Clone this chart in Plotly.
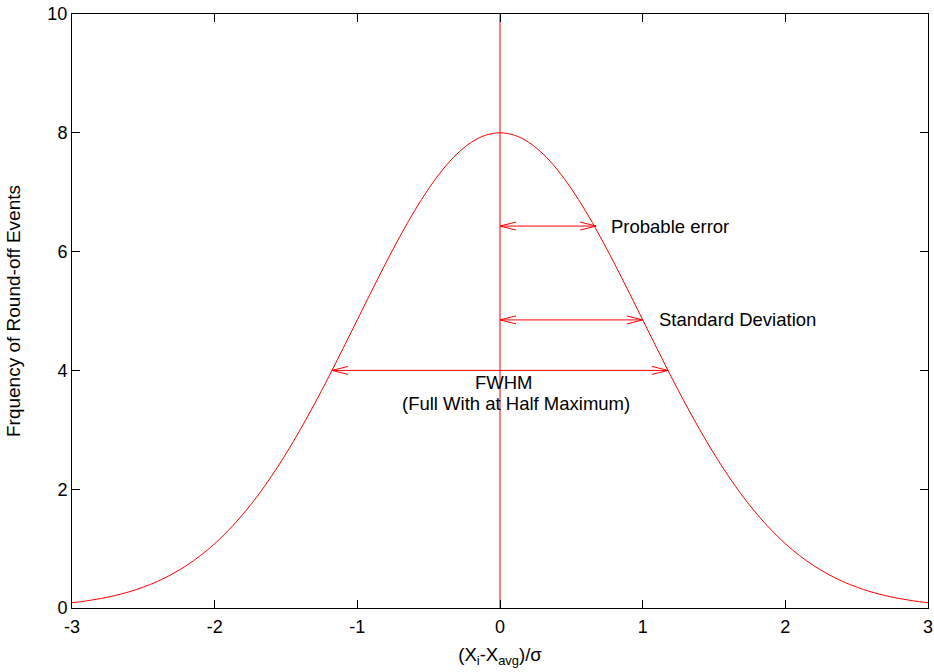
import plotly.graph_objects as go

# Gaussian curve (peak 8 at x=0)
x_vals = [-3.0, -2.9, -2.8, -2.7, -2.6, -2.5, -2.4, -2.3, -2.2, -2.1, -2.0,
          -1.9, -1.8, -1.7, -1.6, -1.5, -1.4, -1.3, -1.2, -1.1, -1.0,
          -0.9, -0.8, -0.7, -0.6, -0.5, -0.4, -0.3, -0.2, -0.1, 0.0,
          0.1, 0.2, 0.3, 0.4, 0.5, 0.6, 0.7, 0.8, 0.9, 1.0,
          1.1, 1.2, 1.3, 1.4, 1.5, 1.6, 1.7, 1.8, 1.9, 2.0,
          2.1, 2.2, 2.3, 2.4, 2.5, 2.6, 2.7, 2.8, 2.9, 3.0]
y_vals = [0.089, 0.119, 0.159, 0.209, 0.272, 0.352, 0.449, 0.568, 0.711, 0.882, 1.083,
          1.316, 1.583, 1.886, 2.224, 2.597, 3.003, 3.436, 3.894, 4.369, 4.852,
          5.336, 5.809, 6.262, 6.682, 7.060, 7.385, 7.648, 7.842, 7.960, 8.000,
          7.960, 7.842, 7.648, 7.385, 7.060, 6.682, 6.262, 5.809, 5.336, 4.852,
          4.369, 3.894, 3.436, 3.003, 2.597, 2.224, 1.886, 1.583, 1.316, 1.083,
          0.882, 0.711, 0.568, 0.449, 0.352, 0.272, 0.209, 0.159, 0.119, 0.089]

# vertical centre line
center_x = [0.0, 0.0]
center_y = [0.0, 10.0]

# double-headed arrows: (x_start, x_end, y)
arrow_names = ["Probable error", "Standard Deviation", "FWHM"]
arrow_x0 = [0.0, 0.0, -1.177]
arrow_x1 = [0.674, 1.0, 1.177]
arrow_y = [6.43, 4.85, 4.0]

x_ticks = [-3, -2, -1, 0, 1, 2, 3]
y_ticks = [0, 2, 4, 6, 8, 10]

RED = "#ff0000"
FONT = "Liberation Sans, Arial, sans-serif"

W, H = 934, 672
ML, MR, MT, MB = 72, 6, 14, 64
px_per_x = (W - ML - MR) / 6.0
px_per_y = (H - MT - MB) / 10.0
head_len = 16 / px_per_x
head_half = 4 / px_per_y

fig = go.Figure()
fig.add_trace(go.Scatter(x=x_vals, y=y_vals, mode="lines", line=dict(color=RED, width=1, shape="spline"),
                         hoverinfo="skip", showlegend=False, cliponaxis=False))
fig.add_trace(go.Scatter(x=center_x, y=center_y, mode="lines", line=dict(color=RED, width=1),
                         hoverinfo="skip", showlegend=False))

for x0, x1, yy in zip(arrow_x0, arrow_x1, arrow_y):
    xs = [x0, x1, None,
          x0 + head_len, x0, x0 + head_len, None,
          x1 - head_len, x1, x1 - head_len]
    ys = [yy, yy, None,
          yy + head_half, yy, yy - head_half, None,
          yy + head_half, yy, yy - head_half]
    fig.add_trace(go.Scatter(x=xs, y=ys, mode="lines", line=dict(color=RED, width=1),
                             hoverinfo="skip", showlegend=False))

tf = dict(family=FONT, size=18.5, color="#000000")
tickf = dict(family=FONT, size=18, color="#000000")
fig.add_annotation(x=0.765, y=6.43, text="Probable error", showarrow=False, xanchor="left", yanchor="middle", font=tf)
fig.add_annotation(x=1.10, y=4.85, text="Standard Deviation", showarrow=False, xanchor="left", yanchor="middle", font=tf)
fig.add_annotation(x=0.025, y=3.80, text="FWHM", showarrow=False, xanchor="center", yanchor="middle", font=tf)
fig.add_annotation(x=0.11, y=3.44, text="(Full With at Half Maximum)", showarrow=False, xanchor="center", yanchor="middle", font=tf)

axis_common = dict(showgrid=False, zeroline=False, showline=True, linecolor="#000000", linewidth=1,
                   ticks="inside", ticklen=8, tickwidth=1, tickcolor="#000000", mirror="ticks",
                   tickfont=tickf, automargin=False, ticklabeloverflow="allow")
fig.update_xaxes(range=[-3, 3], tickvals=x_ticks, ticktext=[str(v) for v in x_ticks], ticklabelstandoff=2,
                 title=dict(text="(X<sub>i</sub>-X<sub>avg</sub>)/σ", font=tf, standoff=12), **axis_common)
fig.update_yaxes(range=[0, 10], tickvals=y_ticks, ticktext=[str(v) for v in y_ticks],
                 title=dict(text="Frquency of Round-off Events", font=dict(family=FONT, size=19, color="#000000"),
                            standoff=21), **axis_common)

fig.update_layout(width=W, height=H, margin=dict(l=ML, r=MR, t=MT, b=MB, autoexpand=False),
                  plot_bgcolor="white", paper_bgcolor="white", font=dict(family=FONT, size=18, color="#000"))
fig.write_html("out.html", config={"displayModeBar": False},
               post_script="document.body.style.margin='0';document.body.style.overflow='hidden';")
